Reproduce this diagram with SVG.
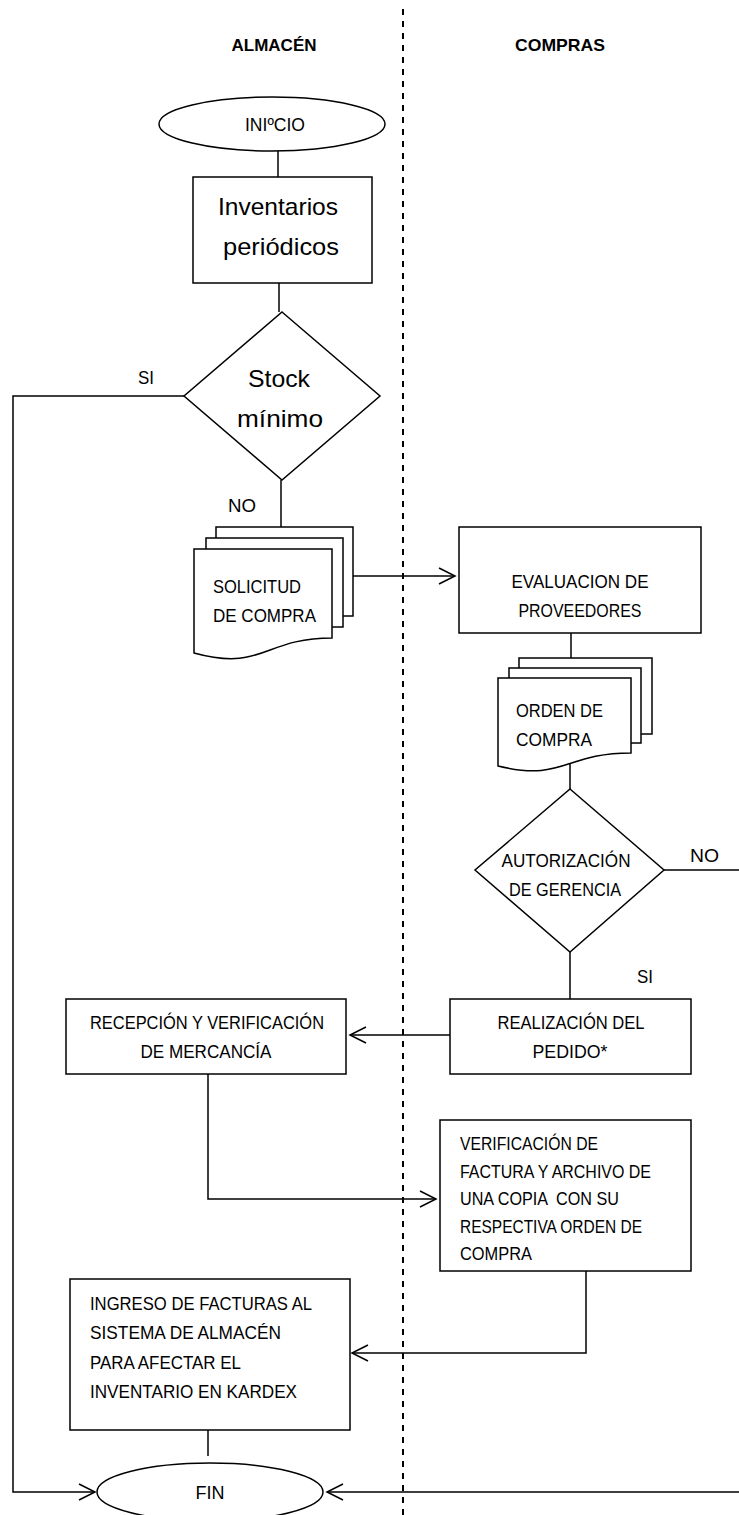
<svg xmlns="http://www.w3.org/2000/svg" width="739" height="1515" viewBox="0 0 739 1515">
  <style>
    .shape { fill: #fff; stroke: #000; stroke-width: 1.5; }
    .wire { fill: none; stroke: #000; stroke-width: 1.5; }
    .lane { fill: none; stroke: #000; stroke-width: 2; stroke-dasharray: 6 6; }
    text { font-family: "Liberation Sans", Arial, sans-serif; font-size: 18px; fill: #000; }
    .big { font-size: 24px; }
    .head { font-weight: bold; font-size: 17px; }
    .mid { text-anchor: middle; }
  </style>
  <defs>
    <marker id="open" markerUnits="userSpaceOnUse" markerWidth="20" markerHeight="20" refX="17" refY="9" orient="auto">
      <path d="M1,1 L17,9 L1,17" fill="none" stroke="#000" stroke-width="1.5"/>
    </marker>
  </defs>

  <!-- swimlane divider and headers -->
  <line class="lane" x1="403" y1="9" x2="403" y2="1515"/>
  <text class="head mid" x="274" y="51" textLength="85" lengthAdjust="spacingAndGlyphs">ALMACÉN</text>
  <text class="head mid" x="560" y="51" textLength="90" lengthAdjust="spacingAndGlyphs">COMPRAS</text>

  <!-- connectors -->
  <g id="connectors">
    <path class="wire" d="M278,151 V177"/>
    <path class="wire" d="M279,283 V312"/>
    <path class="wire" d="M184,396 H13 V1492 H95" marker-end="url(#open)"/>
    <path class="wire" d="M281,480 V527"/>
    <path class="wire" d="M353,576 H455" marker-end="url(#open)"/>
    <path class="wire" d="M571,633 V658"/>
    <path class="wire" d="M570,750 V789"/>
    <path class="wire" d="M664,870 H742 V1492 H327" marker-end="url(#open)"/>
    <path class="wire" d="M570,952 V999"/>
    <path class="wire" d="M450,1035 H350" marker-end="url(#open)"/>
    <path class="wire" d="M208,1074 V1199 H436" marker-end="url(#open)"/>
    <path class="wire" d="M586,1271 V1353 H352" marker-end="url(#open)"/>
    <path class="wire" d="M208,1430 V1456"/>
  </g>

  <!-- connector labels -->
  <text x="138" y="384" textLength="16" lengthAdjust="spacingAndGlyphs">SI</text>
  <text x="228" y="512" textLength="28" lengthAdjust="spacingAndGlyphs">NO</text>
  <text x="690" y="862" textLength="29" lengthAdjust="spacingAndGlyphs">NO</text>
  <text x="637" y="983" textLength="16" lengthAdjust="spacingAndGlyphs">SI</text>

  <g id="inicio">
    <ellipse class="shape" cx="272" cy="124" rx="113" ry="27"/>
    <text class="mid" x="275" y="131" textLength="60" lengthAdjust="spacingAndGlyphs">INIºCIO</text>
  </g>

  <g id="inventarios">
    <rect class="shape" x="193" y="177" width="179" height="106"/>
    <text class="big mid" x="278" y="215" textLength="120" lengthAdjust="spacingAndGlyphs">Inventarios</text>
    <text class="big mid" x="281" y="255" textLength="116" lengthAdjust="spacingAndGlyphs">periódicos</text>
  </g>

  <g id="stock">
    <polygon class="shape" points="282,312 380,396 282,480 184,396"/>
    <text class="big mid" x="279" y="387" textLength="62" lengthAdjust="spacingAndGlyphs">Stock</text>
    <text class="big mid" x="280" y="427" textLength="86" lengthAdjust="spacingAndGlyphs">mínimo</text>
  </g>

  <g id="solicitud">
    <rect class="shape" x="216" y="527" width="137" height="89"/>
    <rect class="shape" x="206" y="538" width="137" height="89"/>
    <path class="shape" d="M194,549 H332 V638 C263,638 263,672 194,653 Z"/>
    <text x="213" y="593" textLength="88" lengthAdjust="spacingAndGlyphs">SOLICITUD</text>
    <text x="213" y="622" textLength="103" lengthAdjust="spacingAndGlyphs">DE COMPRA</text>
  </g>

  <g id="evaluacion">
    <rect class="shape" x="459" y="527" width="242" height="106"/>
    <text class="mid" x="580" y="588" textLength="137" lengthAdjust="spacingAndGlyphs">EVALUACION DE</text>
    <text class="mid" x="580" y="617" textLength="123" lengthAdjust="spacingAndGlyphs">PROVEEDORES</text>
  </g>

  <g id="orden">
    <rect class="shape" x="519" y="658" width="133" height="76"/>
    <rect class="shape" x="509" y="668" width="132" height="75"/>
    <path class="shape" d="M498,678 H631 V753 C564,753 564,782 498,766 Z"/>
    <text x="516" y="717" textLength="87" lengthAdjust="spacingAndGlyphs">ORDEN DE</text>
    <text x="516" y="746" textLength="76" lengthAdjust="spacingAndGlyphs">COMPRA</text>
  </g>

  <g id="autorizacion">
    <polygon class="shape" points="570,789 664,870 570,952 475,870"/>
    <text class="mid" x="566" y="867" textLength="129" lengthAdjust="spacingAndGlyphs">AUTORIZACIÓN</text>
    <text class="mid" x="565" y="896" textLength="112" lengthAdjust="spacingAndGlyphs">DE GERENCIA</text>
  </g>

  <g id="realizacion">
    <rect class="shape" x="450" y="999" width="241" height="75"/>
    <text class="mid" x="571" y="1029" textLength="147" lengthAdjust="spacingAndGlyphs">REALIZACIÓN DEL</text>
    <text class="mid" x="570" y="1058" textLength="75" lengthAdjust="spacingAndGlyphs">PEDIDO*</text>
  </g>

  <g id="recepcion">
    <rect class="shape" x="66" y="999" width="280" height="75"/>
    <text class="mid" x="207" y="1029" textLength="234" lengthAdjust="spacingAndGlyphs">RECEPCIÓN Y VERIFICACIÓN</text>
    <text class="mid" x="206" y="1058" textLength="131" lengthAdjust="spacingAndGlyphs">DE MERCANCÍA</text>
  </g>

  <g id="verificacion">
    <rect class="shape" x="440" y="1120" width="251" height="151"/>
    <text x="460" y="1150" textLength="138" lengthAdjust="spacingAndGlyphs">VERIFICACIÓN DE</text>
    <text x="460" y="1177.5" textLength="191" lengthAdjust="spacingAndGlyphs">FACTURA Y ARCHIVO DE</text>
    <text x="460" y="1205" xml:space="preserve" textLength="159" lengthAdjust="spacingAndGlyphs">UNA COPIA  CON SU</text>
    <text x="460" y="1232.5" textLength="182" lengthAdjust="spacingAndGlyphs">RESPECTIVA ORDEN DE</text>
    <text x="460" y="1260" textLength="72" lengthAdjust="spacingAndGlyphs">COMPRA</text>
  </g>

  <g id="ingreso">
    <rect class="shape" x="70" y="1279" width="280" height="151"/>
    <text x="90" y="1310" textLength="222" lengthAdjust="spacingAndGlyphs">INGRESO DE FACTURAS AL</text>
    <text x="90" y="1339" textLength="191" lengthAdjust="spacingAndGlyphs">SISTEMA DE ALMACÉN</text>
    <text x="90" y="1369" textLength="151" lengthAdjust="spacingAndGlyphs">PARA AFECTAR EL</text>
    <text x="90" y="1398" textLength="207" lengthAdjust="spacingAndGlyphs">INVENTARIO EN KARDEX</text>
  </g>

  <g id="fin">
    <ellipse class="shape" cx="210" cy="1492" rx="113" ry="29"/>
    <text class="mid" x="210" y="1499" textLength="29" lengthAdjust="spacingAndGlyphs">FIN</text>
  </g>
</svg>
